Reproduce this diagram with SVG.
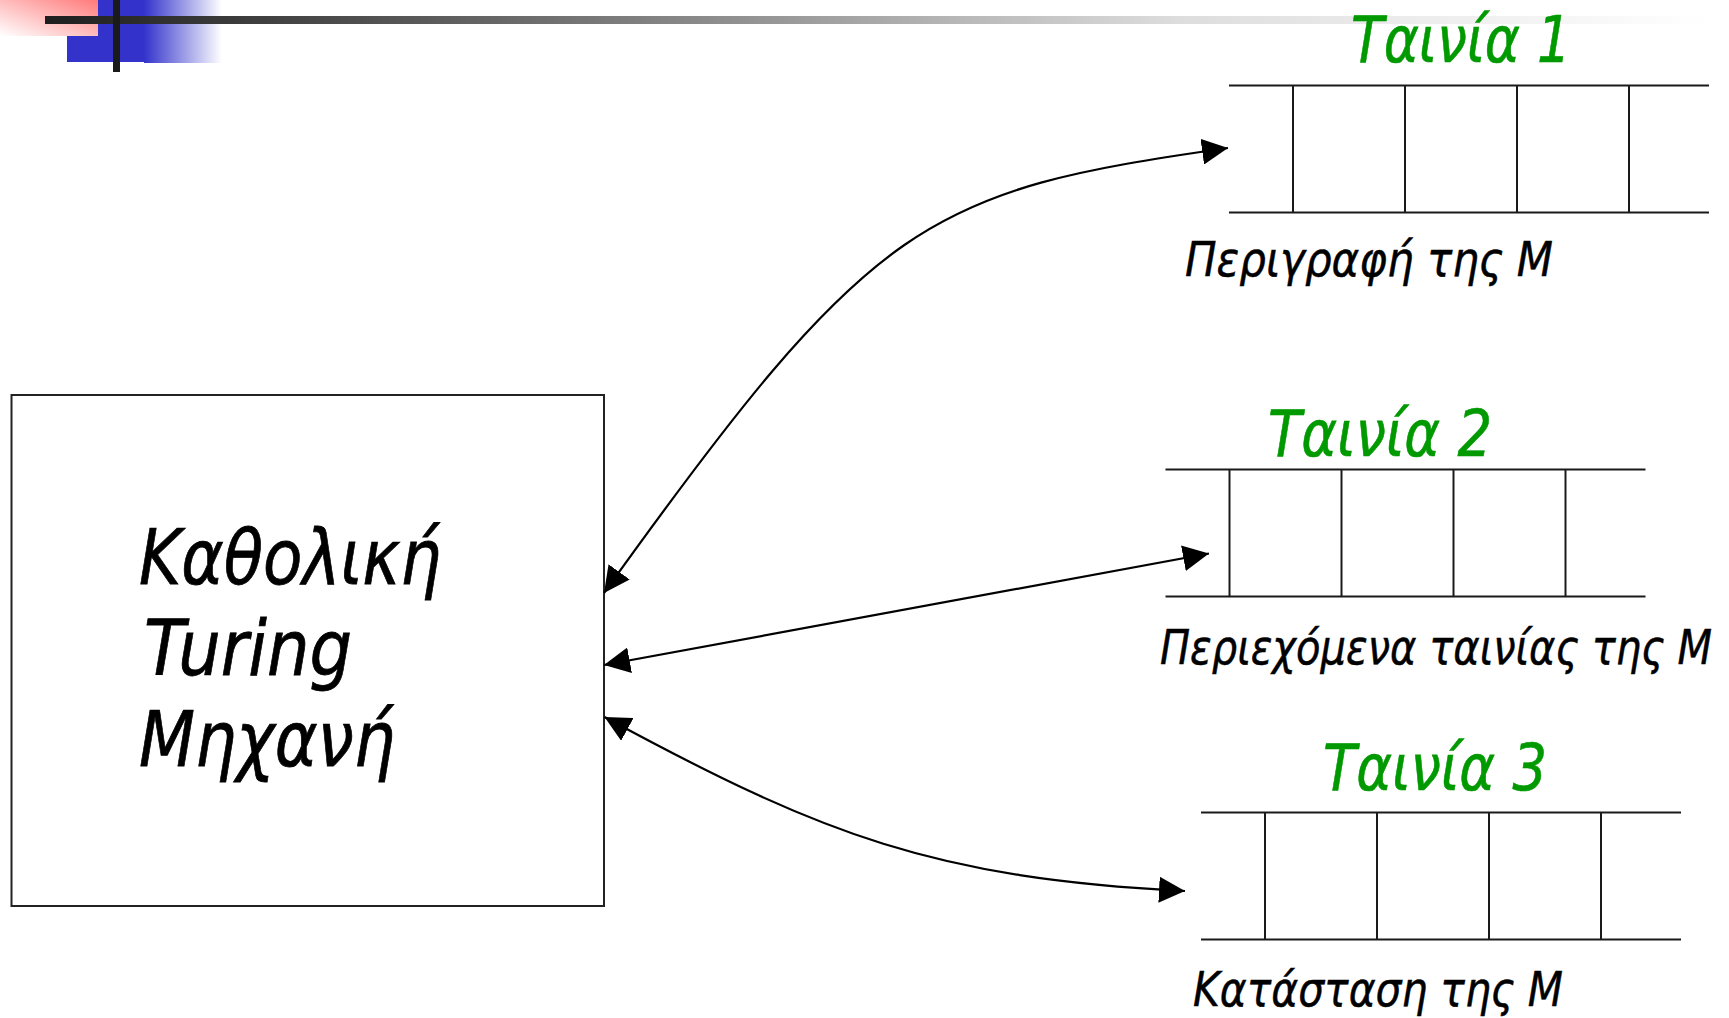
<svg xmlns="http://www.w3.org/2000/svg" width="1729" height="1018" viewBox="0 0 1729 1018">
  <defs>
    <linearGradient id="pinkGrad" x1="1" y1="0" x2="0" y2="1">
      <stop offset="0" stop-color="#ff7a7a"/>
      <stop offset="1" stop-color="#ffffff"/>
    </linearGradient>
    <linearGradient id="blueGrad" x1="0" y1="0" x2="1" y2="0">
      <stop offset="0" stop-color="#3333cc"/>
      <stop offset="1" stop-color="#3333cc" stop-opacity="0"/>
    </linearGradient>
    <linearGradient id="barGrad" gradientUnits="userSpaceOnUse" x1="45" y1="0" x2="1710" y2="0">
      <stop offset="0" stop-color="#1e1e1e"/>
      <stop offset="0.21" stop-color="#555555"/>
      <stop offset="0.68" stop-color="#dddddd"/>
      <stop offset="1" stop-color="#ffffff"/>
    </linearGradient>
    <marker id="ah" markerUnits="userSpaceOnUse" markerWidth="27" markerHeight="26" refX="26" refY="13" orient="auto-start-reverse">
      <path d="M0,0 L26,13 L0,26 z" fill="#000"/>
    </marker>
  </defs>
  <style>
    .tape line { stroke: #1a1a1a; stroke-width: 2; }
    .title { font-family: "DejaVu Sans", "Liberation Sans", sans-serif; font-style: italic; font-size: 64px; fill: #009900; stroke: #009900; stroke-width: 0.6; }
    .caption { font-family: "DejaVu Sans", "Liberation Sans", sans-serif; font-style: italic; font-size: 48px; fill: #000; stroke: #000; stroke-width: 0.5; }
    .boxtext { font-family: "DejaVu Sans", "Liberation Sans", sans-serif; font-style: italic; font-size: 77px; fill: #000; stroke: #000; stroke-width: 0.8; }
    .conn { fill: none; stroke: #000; stroke-width: 2.2; marker-start: url(#ah); marker-end: url(#ah); }
  </style>
  <rect width="1729" height="1018" fill="#ffffff"/>

  <g id="decoration">
    <rect x="67" y="0" width="77" height="62" fill="#3333cc"/>
    <rect x="144" y="0" width="78" height="63" fill="url(#blueGrad)"/>
    <rect x="0" y="0" width="98" height="36" fill="url(#pinkGrad)"/>
    <rect x="45" y="16" width="1665" height="8" fill="url(#barGrad)"/>
    <rect x="113" y="0" width="7" height="72" fill="#1a1a1a"/>
  </g>

  <g id="utm">
    <rect x="11.5" y="395" width="592.5" height="511" fill="none" stroke="#222" stroke-width="2"/>
    <text class="boxtext" x="139" y="584" textLength="302" lengthAdjust="spacingAndGlyphs">Καθολική</text>
    <text class="boxtext" x="144" y="675" textLength="208" lengthAdjust="spacingAndGlyphs">Turing</text>
    <text class="boxtext" x="139" y="766" textLength="256" lengthAdjust="spacingAndGlyphs">Μηχανή</text>
  </g>

  <g id="tape1">
    <g class="tape" transform="translate(1229,85.5)">
      <line x1="0" y1="0" x2="480" y2="0"/>
      <line x1="0" y1="127" x2="480" y2="127"/>
      <line x1="64" y1="0" x2="64" y2="127"/>
      <line x1="176" y1="0" x2="176" y2="127"/>
      <line x1="288" y1="0" x2="288" y2="127"/>
      <line x1="400" y1="0" x2="400" y2="127"/>
    </g>
    <text class="title" x="1351" y="62" textLength="220" lengthAdjust="spacingAndGlyphs">Ταινία 1</text>
    <text class="caption" x="1185" y="276" textLength="368" lengthAdjust="spacingAndGlyphs">Περιγραφή της Μ</text>
  </g>

  <g id="tape2">
    <g class="tape" transform="translate(1165.5,469.5)">
      <line x1="0" y1="0" x2="480" y2="0"/>
      <line x1="0" y1="127" x2="480" y2="127"/>
      <line x1="64" y1="0" x2="64" y2="127"/>
      <line x1="176" y1="0" x2="176" y2="127"/>
      <line x1="288" y1="0" x2="288" y2="127"/>
      <line x1="400" y1="0" x2="400" y2="127"/>
    </g>
    <text class="title" x="1268" y="456" textLength="224" lengthAdjust="spacingAndGlyphs">Ταινία 2</text>
    <text class="caption" x="1160" y="664" textLength="552" lengthAdjust="spacingAndGlyphs">Περιεχόμενα ταινίας της Μ</text>
  </g>

  <g id="tape3">
    <g class="tape" transform="translate(1201,812.5)">
      <line x1="0" y1="0" x2="480" y2="0"/>
      <line x1="0" y1="127" x2="480" y2="127"/>
      <line x1="64" y1="0" x2="64" y2="127"/>
      <line x1="176" y1="0" x2="176" y2="127"/>
      <line x1="288" y1="0" x2="288" y2="127"/>
      <line x1="400" y1="0" x2="400" y2="127"/>
    </g>
    <text class="title" x="1323" y="790" textLength="224" lengthAdjust="spacingAndGlyphs">Ταινία 3</text>
    <text class="caption" x="1193" y="1006" textLength="370" lengthAdjust="spacingAndGlyphs">Κατάσταση της Μ</text>
  </g>

  <g id="connectors">
    <path class="conn" d="M604,593 C874,216 926,191 1228,148"/>
    <path class="conn" d="M604,665 L1209,553.5"/>
    <path class="conn" d="M604.5,717 C824,836 935,878 1185,891"/>
  </g>
</svg>
